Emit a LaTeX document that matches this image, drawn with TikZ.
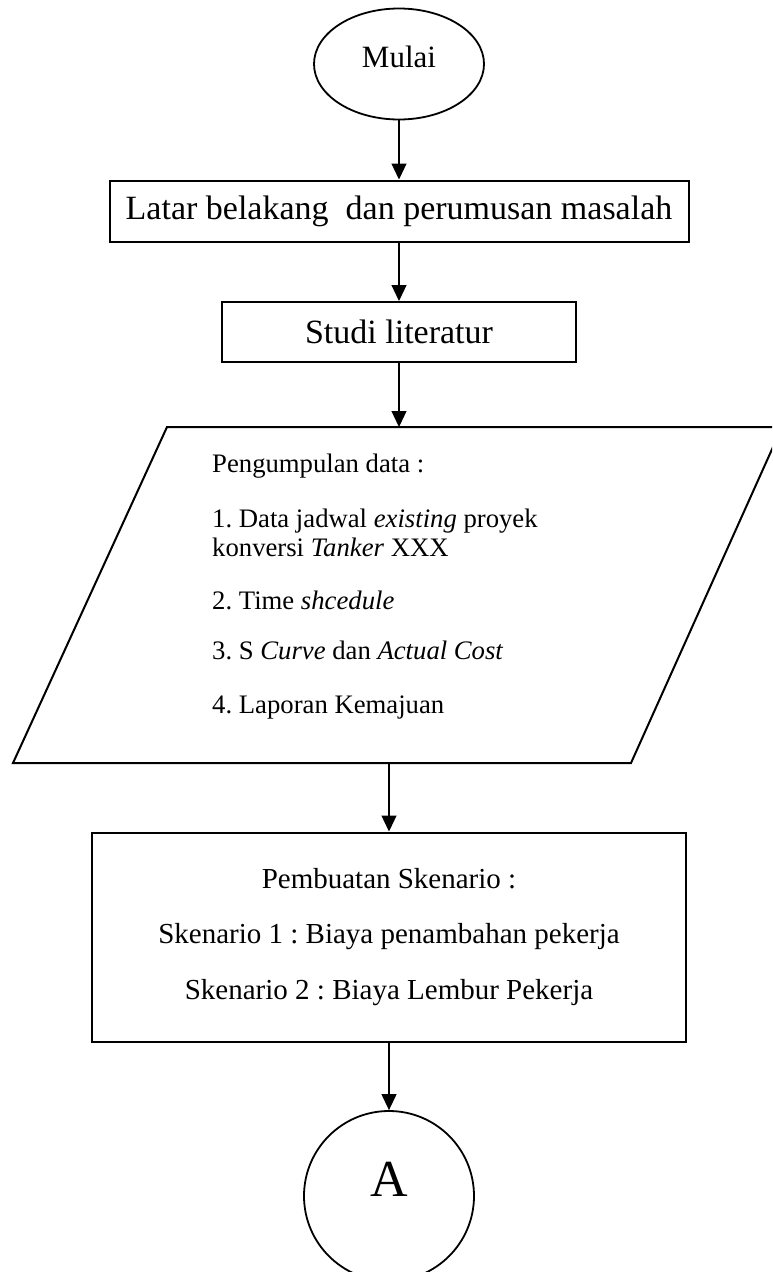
\documentclass[tikz,border=0pt]{standalone}
\usepackage{fontspec}
\setmainfont{Liberation Serif}
\usetikzlibrary{arrows.meta,shapes.geometric}
\frenchspacing

\tikzset{
    box/.style={draw,line width=2pt,inner sep=0pt},
    arr/.style={line width=1.2pt,-{Triangle[width=15pt,length=16pt]}},
    datatext/.style={anchor=base west,inner sep=0pt,font=\fontsize{26.7}{30}\selectfont},
}

\begin{document}
\begin{tikzpicture}[x=1pt,y=-1pt]
    \useasboundingbox (0,0) rectangle (772,1272);
    \clip (0,0) rectangle (772,1272);

    \node (mulai) at (399,64) [ellipse,draw,line width=1.8pt,inner sep=0pt,minimum width=170pt,minimum height=111pt,text depth=14pt,font=\fontsize{31}{36}\selectfont] {Mulai};
    \node (latar) at (399,211) [box,minimum width=579pt,minimum height=61pt,font=\fontsize{34}{40}\selectfont] {Latar belakang\ \ dan perumusan masalah};
    \node (studi) at (399,332) [box,minimum width=354pt,minimum height=60pt,font=\fontsize{34}{40}\selectfont] {Studi literatur};

    % pengumpulan data
    \coordinate (dataTop) at (399,427);
    \coordinate (dataBot) at (389,763);
    \draw[line width=2pt] (167,427) -- (782,427) -- (631,763) -- (13,763) -- cycle;
    \node (pd0) at (212,472) [datatext] {Pengumpulan data :};
    \node (pd1) at (212,527) [datatext] {1. Data jadwal \emph{existing} proyek};
    \node (pd1b) at (212,556) [datatext] {konversi \emph{Tanker} XXX};
    \node (pd2) at (212,609) [datatext] {2. Time \emph{shcedule}};
    \node (pd3) at (212,659) [datatext] {3. S \emph{Curve} dan \emph{Actual Cost}};
    \node (pd4) at (212,713) [datatext] {4. Laporan Kemajuan};

    \node (skenario) at (389,937) [box,minimum width=594pt,minimum height=209pt,align=center,font=\fontsize{29}{55.5}\selectfont] {Pembuatan Skenario :\\Skenario 1 : Biaya penambahan pekerja\\Skenario 2 : Biaya Lembur Pekerja};
    \node (a) at (389,1196) [circle,draw,line width=1.8pt,inner sep=0pt,minimum size=170pt,text depth=33pt,font=\fontsize{52}{60}\selectfont] {A};

    \draw[arr] (mulai) -- (latar);
    \draw[arr] (latar) -- (studi);
    \draw[arr] (studi) -- (dataTop);
    \draw[arr] (dataBot) -- (skenario);
    \draw[arr] (skenario) -- (a);
\end{tikzpicture}
\end{document}
